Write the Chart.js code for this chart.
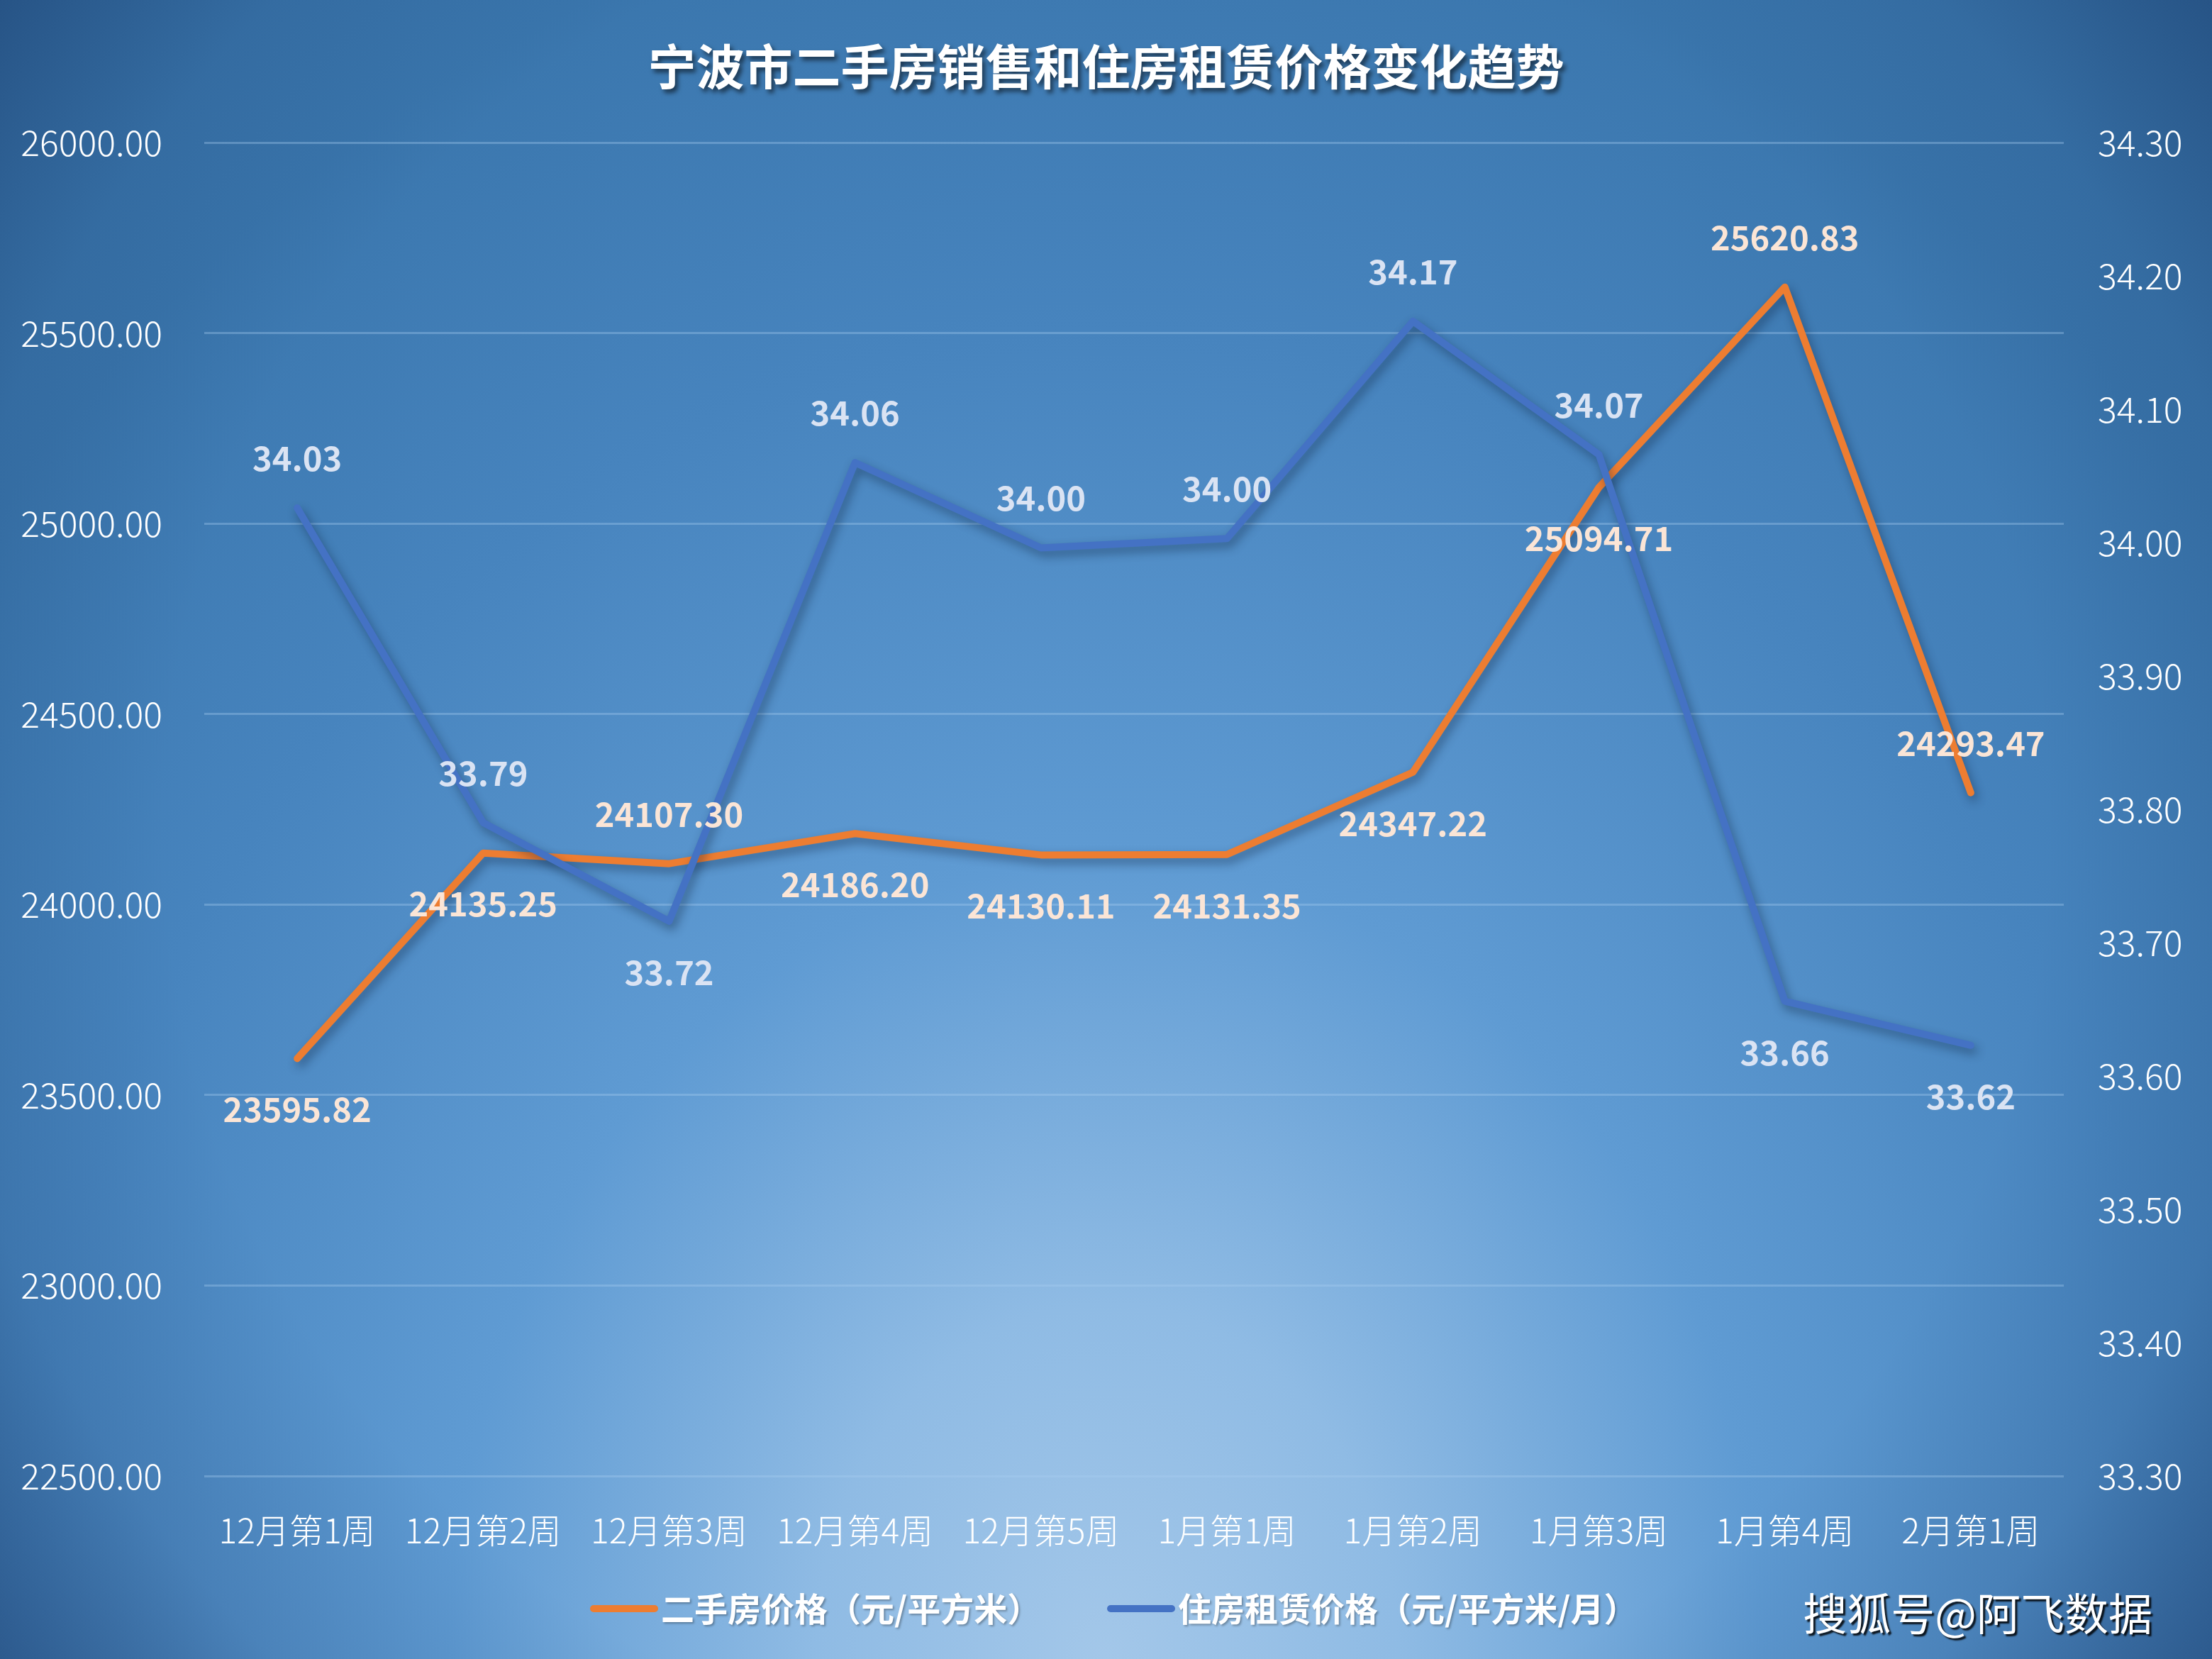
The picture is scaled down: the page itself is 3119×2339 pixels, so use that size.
<!DOCTYPE html>
<html>
<head>
<meta charset="utf-8">
<script src="https://cdn.jsdelivr.net/npm/chart.js@4"></script>
<style>
  html, body { margin: 0; padding: 0; background: #2c6396; }
  #wrap { width: 3119px; height: 2339px; }
</style>
</head>
<body>
<div id="wrap"><canvas id="c" width="3119" height="2339"></canvas></div>
<script>
const titleText = '宁波市二手房销售和住房租赁价格变化趋势';
const watermark = '搜狐号@阿飞数据';
const categories = ['12月第1周','12月第2周','12月第3周','12月第4周','12月第5周','1月第1周','1月第2周','1月第3周','1月第4周','2月第1周'];
const saleLabel = '二手房价格（元/平方米）';
const rentLabel = '住房租赁价格（元/平方米/月）';
const salePrices = [23595.82, 24135.25, 24107.30, 24186.20, 24130.11, 24131.35, 24347.22, 25094.71, 25620.83, 24293.47];
const rentPrices = [34.026, 33.79, 33.716, 34.06, 33.996, 34.003, 34.166, 34.066, 33.656, 33.623];
const leftTicks = { min: 22500, max: 26000, step: 500 };
const rightTicks = { min: 33.3, max: 34.3, step: 0.1 };

const FONT = '"Noto Sans CJK SC", "Noto Sans", sans-serif';

const bgPlugin = {
  id: 'bg',
  beforeDraw(chart) {
    const ctx = chart.ctx, W = chart.width, H = chart.height;
    ctx.save();
    ctx.fillStyle = '#3a76ad';
    ctx.fillRect(0, 0, W, H);
    // light spot from bottom centre (elliptical)
    ctx.save();
    ctx.translate(W / 2, H);
    ctx.scale(1, 2500 / 2050);
    const g = ctx.createRadialGradient(0, 0, 0, 0, 0, 2050);
    g.addColorStop(0, '#a3c7e9');
    g.addColorStop(0.2, '#8fbbe4');
    g.addColorStop(0.45, '#5f9bd3');
    g.addColorStop(0.75, '#4784be');
    g.addColorStop(1, '#3a76ad');
    ctx.fillStyle = g;
    ctx.fillRect(-W, -H * 2, W * 2, H * 3);
    ctx.restore();
    // vignette towards the corners
    const r = Math.hypot(W / 2, H / 2);
    const v = ctx.createRadialGradient(W / 2, H / 2, 0, W / 2, H / 2, r);
    v.addColorStop(0, 'rgba(20,50,95,0)');
    v.addColorStop(0.68, 'rgba(20,50,95,0)');
    v.addColorStop(0.85, 'rgba(20,50,95,0.15)');
    v.addColorStop(1, 'rgba(20,50,95,0.5)');
    ctx.fillStyle = v;
    ctx.fillRect(0, 0, W, H);
    ctx.restore();
  }
};

const shadowPlugin = {
  id: 'lineShadow',
  beforeDatasetDraw(chart) {
    const ctx = chart.ctx;
    ctx.save();
    ctx.shadowColor = 'rgba(10,30,60,0.45)';
    ctx.shadowBlur = 14;
    ctx.shadowOffsetX = 4;
    ctx.shadowOffsetY = 7;
  },
  afterDatasetDraw(chart) {
    chart.ctx.restore();
  }
};

const labelPlugin = {
  id: 'pointLabels',
  afterDatasetsDraw(chart) {
    const ctx = chart.ctx;
    ctx.save();
    ctx.font = 'bold 47px ' + FONT;
    ctx.textAlign = 'center';
    ctx.textBaseline = 'middle';
    chart.data.datasets.forEach((ds, di) => {
      const meta = chart.getDatasetMeta(di);
      ctx.fillStyle = ds.labelColor;
      meta.data.forEach((pt, i) => {
        const above = ds.labelPos[i] === 'a';
        const y = pt.y + (above ? -70 : 72);
        ctx.fillText(ds.data[i].toFixed(2), pt.x, y);
      });
    });
    ctx.restore();
  }
};

const decorPlugin = {
  id: 'decor',
  afterDraw(chart) {
    const ctx = chart.ctx;
    // title
    ctx.save();
    ctx.font = 'bold 68px ' + FONT;
    ctx.textAlign = 'center';
    ctx.textBaseline = 'middle';
    ctx.shadowColor = 'rgba(0,0,0,0.55)';
    ctx.shadowBlur = 6;
    ctx.shadowOffsetX = 4;
    ctx.shadowOffsetY = 5;
    ctx.fillStyle = '#ffffff';
    ctx.fillText(titleText, chart.width / 2, 94);
    ctx.restore();

    // legend
    ctx.save();
    ctx.font = 'bold 47px ' + FONT;
    ctx.textBaseline = 'middle';
    const items = chart.data.datasets.map(ds => ({ text: ds.label, color: ds.borderColor }));
    const markW = 96, gapText = 4;
    const starts = [832, 1561];
    const y = 2268;
    items.forEach((it, i) => {
      const x = starts[i];
      ctx.strokeStyle = it.color;
      ctx.lineWidth = 10;
      ctx.lineCap = 'round';
      ctx.beginPath();
      ctx.moveTo(x + 5, y);
      ctx.lineTo(x + markW - 5, y);
      ctx.stroke();
      ctx.save();
      ctx.shadowColor = 'rgba(0,0,0,0.3)';
      ctx.shadowBlur = 3;
      ctx.shadowOffsetX = 2;
      ctx.shadowOffsetY = 2;
      ctx.fillStyle = '#ffffff';
      ctx.fillText(it.text, x + markW + gapText, y);
      ctx.restore();
    });
    ctx.restore();

    // watermark
    ctx.save();
    ctx.font = '62px ' + FONT;
    ctx.textAlign = 'right';
    ctx.textBaseline = 'middle';
    ctx.shadowColor = 'rgba(0,0,0,0.85)';
    ctx.shadowBlur = 2;
    ctx.shadowOffsetX = 3;
    ctx.shadowOffsetY = 3;
    ctx.fillStyle = '#ffffff';
    ctx.fillText(watermark, 3035, 2275);
    ctx.restore();
  }
};

const yTickFont = { family: FONT, size: 50, weight: '300' };
const xTickFont = { family: FONT, size: 48, weight: '300' };

new Chart(document.getElementById('c'), {
  type: 'line',
  data: {
    labels: categories,
    datasets: [
      {
        label: saleLabel,
        data: salePrices,
        yAxisID: 'y',
        borderColor: '#ed7d31',
        backgroundColor: '#ed7d31',
        borderWidth: 10,
        pointRadius: 0,
        tension: 0,
        borderCapStyle: 'round',
        borderJoinStyle: 'round',
        order: 1,
        labelColor: '#fbe5d6',
        labelPos: ['b','b','a','b','b','b','b','b','a','a']
      },
      {
        label: rentLabel,
        data: rentPrices,
        yAxisID: 'y1',
        borderColor: '#4472c4',
        backgroundColor: '#4472c4',
        borderWidth: 10,
        pointRadius: 0,
        tension: 0,
        borderCapStyle: 'round',
        borderJoinStyle: 'round',
        order: 0,
        labelColor: '#dae3f3',
        labelPos: ['a','a','b','a','a','a','a','a','b','b']
      }
    ]
  },
  options: {
    responsive: false,
    animation: false,
    devicePixelRatio: 1,
    layout: { padding: { top: 201, bottom: 121, left: 0, right: 0 } },
    plugins: {
      legend: { display: false },
      title: { display: false },
      tooltip: { enabled: false }
    },
    scales: {
      x: {
        offset: true,
        grid: { display: false, drawTicks: false },
        border: { display: false },
        ticks: { color: '#ffffff', font: xTickFont, padding: 48, maxRotation: 0, minRotation: 0, autoSkip: false },
        afterFit(s) { s.height = 137; }
      },
      y: {
        position: 'left',
        min: leftTicks.min,
        max: leftTicks.max,
        grid: { color: 'rgba(170,205,240,0.35)', lineWidth: 3, drawTicks: false },
        border: { display: false },
        ticks: {
          stepSize: leftTicks.step,
          color: '#ffffff',
          font: yTickFont,
          padding: 59,
          callback: v => Number(v).toFixed(2)
        },
        afterFit(s) { s.width = 288; }
      },
      y1: {
        position: 'right',
        min: rightTicks.min,
        max: rightTicks.max,
        grid: { display: false, drawTicks: false },
        border: { display: false },
        ticks: {
          stepSize: rightTicks.step,
          color: '#ffffff',
          font: yTickFont,
          padding: 48,
          callback: v => Number(v).toFixed(2)
        },
        afterFit(s) { s.width = 209; }
      }
    }
  },
  plugins: [bgPlugin, shadowPlugin, labelPlugin, decorPlugin]
});
</script>
</body>
</html>
